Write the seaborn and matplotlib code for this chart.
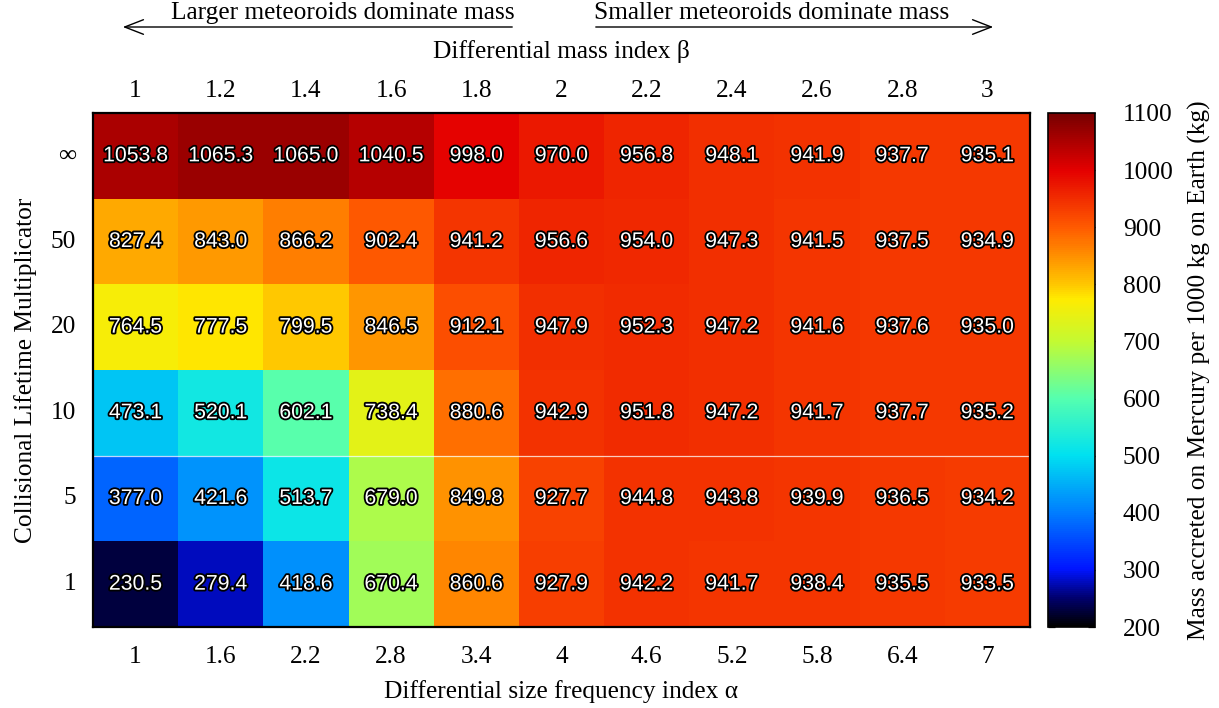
import numpy as np
import pandas as pd
import matplotlib
matplotlib.use("Agg")
import matplotlib.pyplot as plt
import matplotlib.patheffects as pe
from matplotlib.colors import LinearSegmentedColormap
from matplotlib.patches import FancyArrowPatch
import seaborn as sns

# Differential size frequency index (bottom) and differential mass index (top)
alpha_labels = ["1", "1.6", "2.2", "2.8", "3.4", "4", "4.6", "5.2", "5.8", "6.4", "7"]
beta_labels = ["1", "1.2", "1.4", "1.6", "1.8", "2", "2.2", "2.4", "2.6", "2.8", "3"]
lifetime_labels = ["∞", "50", "20", "10", "5", "1"]

row_inf = [1053.8, 1065.3, 1065.0, 1040.5, 998.0, 970.0, 956.8, 948.1, 941.9, 937.7, 935.1]
row_50 = [827.4, 843.0, 866.2, 902.4, 941.2, 956.6, 954.0, 947.3, 941.5, 937.5, 934.9]
row_20 = [764.5, 777.5, 799.5, 846.5, 912.1, 947.9, 952.3, 947.2, 941.6, 937.6, 935.0]
row_10 = [473.1, 520.1, 602.1, 738.4, 880.6, 942.9, 951.8, 947.2, 941.7, 937.7, 935.2]
row_5 = [377.0, 421.6, 513.7, 679.0, 849.8, 927.7, 944.8, 943.8, 939.9, 936.5, 934.2]
row_1 = [230.5, 279.4, 418.6, 670.4, 860.6, 927.9, 942.2, 941.7, 938.4, 935.5, 933.5]

df = pd.DataFrame([row_inf, row_50, row_20, row_10, row_5, row_1],
                  index=lifetime_labels, columns=alpha_labels)

# Black -> blue -> cyan -> green -> yellow -> orange -> red -> dark red palette
vmin, vmax = 200, 1100
stops = [
    (200, (0, 0, 0)),
    (250, (0, 0, 110)),
    (300, (0, 20, 255)),
    (400, (0, 125, 255)),
    (500, (0, 225, 240)),
    (600, (85, 255, 175)),
    (700, (195, 250, 50)),
    (775, (255, 235, 0)),
    (800, (255, 200, 0)),
    (900, (255, 90, 0)),
    (1000, (228, 0, 0)),
    (1100, (120, 0, 0)),
]
cmap = LinearSegmentedColormap.from_list(
    "mass_pal",
    [((v - vmin) / (vmax - vmin), tuple(c / 255 for c in col)) for v, col in stops],
)

sns.set_style("white")
serif = ["Liberation Serif", "DejaVu Serif"]
plt.rcParams.update({
    "font.family": serif,
    "text.color": "black",
    "axes.labelcolor": "black",
    "xtick.color": "black",
    "ytick.color": "black",
})
FS = 18.3

fig = plt.figure(figsize=(12.19, 7.08), dpi=100)
W, H = 1219, 708
ax = fig.add_axes([93 / W, 1 - 627 / H, (1030 - 93) / W, (627 - 113) / H])
cax = fig.add_axes([1048 / W, 1 - 627 / H, 47 / W, (627 - 113) / H])

sns.heatmap(
    df, ax=ax, cbar_ax=cax, cmap=cmap, vmin=vmin, vmax=vmax,
    annot=True, fmt=".1f", linewidths=0,
    annot_kws=dict(color="white", fontsize=15.3, family=["Liberation Sans", "DejaVu Sans"],
                   path_effects=[pe.withStroke(linewidth=2.6, foreground="black")]),
    cbar_kws=dict(ticks=np.arange(200, 1101, 100)),
)

# thin light seam between the 10 and 5 rows
ax.axhline(4, color="white", lw=0.9, alpha=0.75)

for s in ax.spines.values():
    s.set_visible(True)
    s.set_color("black")
    s.set_linewidth(1.6)

ax.tick_params(axis="both", length=0, labelsize=FS, colors="black")
ax.tick_params(axis="x", pad=14)
ax.tick_params(axis="y", pad=12)
ax.set_yticklabels(lifetime_labels, rotation=0)
ax.set_xticklabels(alpha_labels, rotation=0)
ax.set_xlabel("Differential size frequency index α", fontsize=FS, labelpad=8)
ax.set_ylabel("Collisional Lifetime Multiplicator", fontsize=FS, labelpad=10)

# top axis with the differential mass index
ax2 = ax.twiny()
ax2.set_xlim(ax.get_xlim())
ax2.set_xticks(np.arange(len(beta_labels)) + 0.5)
ax2.set_xticklabels(beta_labels)
ax2.tick_params(axis="x", length=0, labelsize=FS, pad=8, colors="black")
for s in ax2.spines.values():
    s.set_visible(False)
ax2.set_xlabel("Differential mass index β", fontsize=FS, labelpad=16)

# colorbar styling
cb = ax.collections[0].colorbar
cb.outline.set_edgecolor("black")
cb.outline.set_linewidth(1.2)
cax.tick_params(axis="y", direction="in", left=True, right=True, length=5,
                width=0.9, labelsize=FS, pad=20, colors="black")
cax.yaxis.set_ticks_position("both")
cax.yaxis.set_tick_params(labelleft=False, labelright=True)
cb.set_label("Mass accreted on Mercury per 1000 kg on Earth (kg)", fontsize=FS, labelpad=10)

# direction arrows above the chart
y_arrow = 1 - 27 / H
y_text = 1 - 13 / H
arrow_style = "->,head_length=0.9,head_width=0.35"
fig.add_artist(FancyArrowPatch(
    (515 / W, y_arrow), (120 / W, y_arrow), transform=fig.transFigure,
    arrowstyle=arrow_style, lw=1.0, color="black", mutation_scale=15))
fig.add_artist(FancyArrowPatch(
    (593 / W, y_arrow), (996 / W, y_arrow), transform=fig.transFigure,
    arrowstyle=arrow_style, lw=1.0, color="black", mutation_scale=15))
fig.text(343 / W, y_text, "Larger meteoroids dominate mass", ha="center", va="center",
         fontsize=FS)
fig.text(772 / W, y_text, "Smaller meteoroids dominate mass", ha="center", va="center",
         fontsize=FS)

fig.savefig("out.png", dpi=100)
